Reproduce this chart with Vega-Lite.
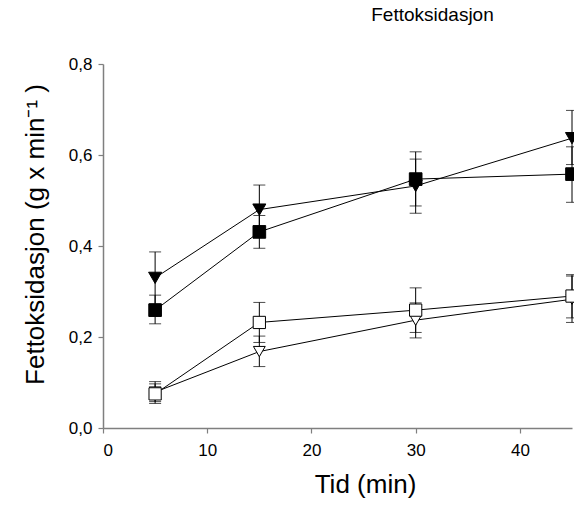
{
  "$schema": "https://vega.github.io/schema/vega-lite/v6.json",
  "width": 469,
  "height": 364,
  "autosize": {"type": "none"},
  "padding": {"left": 103, "top": 64, "right": 2, "bottom": 79},
  "background": "white",
  "title": {
    "text": "Fettoksidasjon",
    "font": "Liberation Sans",
    "fontSize": 19,
    "fontWeight": "normal",
    "color": "black",
    "anchor": "middle",
    "frame": "group",
    "dx": 95,
    "offset": 30
  },
  "config": {
    "view": {"stroke": null},
    "font": "Liberation Sans",
    "axis": {
      "grid": false,
      "domainColor": "#7f7f7f",
      "tickColor": "#7f7f7f",
      "domainWidth": 1.5,
      "tickWidth": 1.2,
      "tickSize": 5,
      "labelFont": "Liberation Sans",
      "labelFontSize": 17,
      "labelColor": "black",
      "titleFont": "Liberation Sans",
      "titleFontWeight": "normal",
      "titleColor": "black"
    }
  },
  "data": {
    "values": [
      {"group": "A", "t": 5, "y": 0.33, "lo": 0.273, "hi": 0.387},
      {"group": "A", "t": 15, "y": 0.48, "lo": 0.426, "hi": 0.534},
      {"group": "A", "t": 30, "y": 0.532, "lo": 0.472, "hi": 0.591},
      {"group": "A", "t": 45, "y": 0.637, "lo": 0.579, "hi": 0.698},
      {"group": "B", "t": 5, "y": 0.259, "lo": 0.229, "hi": 0.292},
      {"group": "B", "t": 15, "y": 0.431, "lo": 0.395, "hi": 0.467},
      {"group": "B", "t": 30, "y": 0.547, "lo": 0.488, "hi": 0.607},
      {"group": "B", "t": 45, "y": 0.558, "lo": 0.496, "hi": 0.618},
      {"group": "D", "t": 5, "y": 0.079, "lo": 0.058, "hi": 0.102},
      {"group": "D", "t": 15, "y": 0.168, "lo": 0.135, "hi": 0.202},
      {"group": "D", "t": 30, "y": 0.237, "lo": 0.198, "hi": 0.275},
      {"group": "D", "t": 45, "y": 0.283, "lo": 0.232, "hi": 0.334},
      {"group": "C", "t": 5, "y": 0.075, "lo": 0.054, "hi": 0.097},
      {"group": "C", "t": 15, "y": 0.232, "lo": 0.188, "hi": 0.276},
      {"group": "C", "t": 30, "y": 0.259, "lo": 0.21, "hi": 0.308},
      {"group": "C", "t": 45, "y": 0.29, "lo": 0.242, "hi": 0.337}
    ]
  },
  "encoding": {
    "x": {
      "field": "t",
      "type": "quantitative",
      "scale": {"domain": [0, 45], "nice": false},
      "axis": {
        "values": [0, 10, 20, 30, 40],
        "title": "Tid (min)",
        "titleFontSize": 26,
        "titleX": 262,
        "titlePadding": 13,
        "labelPadding": 9
      }
    }
  },
  "layer": [
    {
      "mark": {"type": "errorbar", "ticks": {"size": 12, "color": "black", "strokeWidth": 1}, "rule": {"color": "black", "strokeWidth": 1}},
      "encoding": {
        "y": {
          "field": "lo",
          "type": "quantitative",
          "scale": {"domain": [0, 0.8], "nice": false},
          "axis": {
            "values": [0, 0.2, 0.4, 0.6, 0.8],
            "labelExpr": "replace(format(datum.value, '.1f'), '.', ',')",
            "title": "Fettoksidasjon (g x min⁻¹ )",
            "titleFontSize": 26,
            "titleY": 170,
            "titlePadding": 20,
            "labelPadding": 6
          }
        },
        "y2": {"field": "hi"},
        "detail": {"field": "group"}
      }
    },
    {
      "mark": {"type": "line", "color": "black", "strokeWidth": 1},
      "encoding": {
        "y": {"field": "y", "type": "quantitative"},
        "detail": {"field": "group"}
      }
    },
    {
      "mark": {"type": "point", "filled": true, "stroke": "black", "strokeWidth": 1, "opacity": 1},
      "encoding": {
        "y": {"field": "y", "type": "quantitative"},
        "shape": {
          "field": "group",
          "type": "nominal",
          "scale": {"domain": ["A", "B", "C", "D"], "range": ["triangle-down", "square", "square", "triangle-down"]},
          "legend": null
        },
        "fill": {
          "field": "group",
          "type": "nominal",
          "scale": {"domain": ["A", "B", "C", "D"], "range": ["black", "black", "white", "white"]},
          "legend": null
        },
        "size": {
          "field": "group",
          "type": "nominal",
          "scale": {"domain": ["A", "B", "C", "D"], "range": [170, 140, 140, 170]},
          "legend": null
        }
      }
    }
  ]
}
